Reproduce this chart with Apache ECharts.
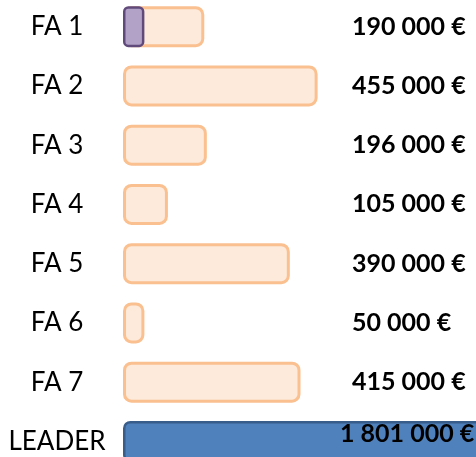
<!DOCTYPE html>
<html>
<head>
<meta charset="utf-8">
<script src="https://cdn.jsdelivr.net/npm/echarts@6/dist/echarts.min.js"></script>
<style>
  html, body { margin: 0; padding: 0; background: #fff; }
  #main { width: 476px; height: 457px; }
</style>
</head>
<body>
<div id="main"></div>
<script>
var categories = ['FA 1', 'FA 2', 'FA 3', 'FA 4', 'FA 5', 'FA 6', 'FA 7', 'LEADER'];
var amounts = [190000, 455000, 196000, 105000, 390000, 50000, 415000, 1801000];
var highlight = [50000, '-', '-', '-', '-', '-', '-', '-'];

function fmt(v) {
  return String(v).replace(/\B(?=(\d{3})+(?!\d))/g, ' ') + ' €';
}

var myChart = echarts.init(document.getElementById('main'));

var barData = amounts.map(function (v, i) {
  if (categories[i] === 'LEADER') {
    return {
      value: v,
      itemStyle: { color: '#4F81BD', borderColor: '#385D8A', borderWidth: 2.5, borderRadius: 6 },
      label: {
        show: true,
        position: [217, 13],
        verticalAlign: 'middle',
        formatter: fmt(v),
        fontFamily: 'Lato',
        fontWeight: 'bold',
        fontSize: 25,
        color: '#000'
      }
    };
  }
  return v;
});

var option = {
  animation: false,
  grid: { left: 123, top: -3, width: 219, height: 474, outerBoundsMode: 'none', containLabel: false },
  xAxis: { type: 'value', min: 0, max: 512000, show: false },
  yAxis: [{
    type: 'category',
    data: categories,
    inverse: true,
    axisLine: { show: false },
    axisTick: { show: false },
    axisLabel: {
      margin: 66,
      align: 'center',
      fontFamily: 'Lato',
      fontSize: 26,
      color: '#000'
    }
  }, {
    type: 'category',
    position: 'right',
    data: categories,
    inverse: true,
    axisLine: { show: false },
    axisTick: { show: false },
    axisLabel: {
      margin: 10,
      align: 'left',
      fontFamily: 'Lato',
      fontWeight: 'bold',
      fontSize: 25,
      color: '#000',
      formatter: function (v, i) {
        return v === 'LEADER' ? '' : fmt(amounts[i]);
      }
    }
  }],
  series: [{
    type: 'bar',
    data: barData,
    barWidth: 41,
    clip: false,
    itemStyle: { color: '#FDEADA', borderColor: '#FAC090', borderWidth: 3, borderRadius: 7 }
  }, {
    type: 'bar',
    data: highlight,
    barWidth: 41,
    barGap: '-100%',
    clip: false,
    itemStyle: { color: '#B3A2C7', borderColor: '#604A7B', borderWidth: 2.5, borderRadius: 4 }
  }]
};

myChart.setOption(option);
</script>
</body>
</html>
